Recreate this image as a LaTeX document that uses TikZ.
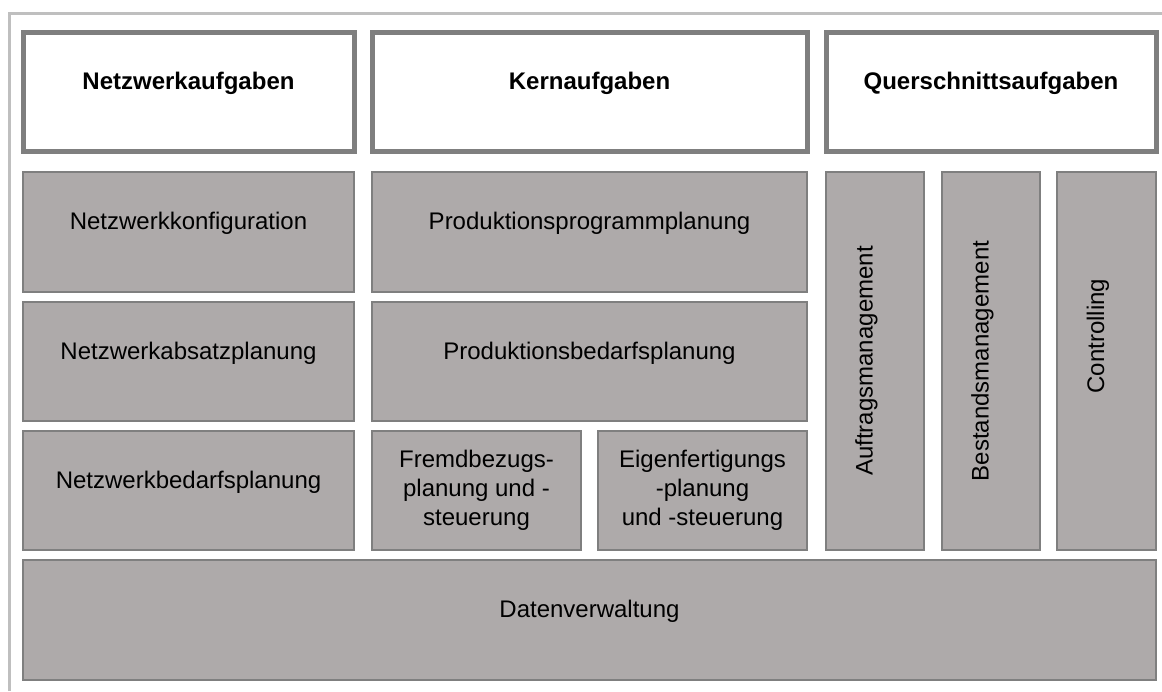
\documentclass[tikz,border=0pt]{standalone}
\usepackage{fontspec}
\setmainfont{Liberation Sans}
\definecolor{cellfill}{HTML}{AEAAAA}
\definecolor{celldraw}{HTML}{7F7F7F}
\definecolor{framegray}{HTML}{BFBFBF}
\begin{document}
\begin{tikzpicture}[x=1pt,y=-1pt,
  cell/.style={draw=celldraw, line width=2pt, fill=cellfill, rectangle, inner sep=0pt,
    font=\fontsize{24}{29}\selectfont, align=center},
  up/.style={text height=17pt, text depth=22pt},
  head/.style={draw=celldraw, line width=5pt, fill=white, rectangle, inner sep=0pt,
    font=\fontsize{24}{29}\selectfont\bfseries, text height=17pt, text depth=22pt},
  vert/.style={cell, rotate=90, text height=17pt, text depth=22pt}]
\useasboundingbox (0,0) rectangle (1162,691);
\draw[framegray, line width=3pt] (9,691) -- (9,13.5) -- (1162,13.5);
% headers
\node[head, minimum width=331pt, minimum height=119pt] (h1) at (188.5,92) {Netzwerkaufgaben};
\node[head, minimum width=435pt, minimum height=119pt] (h2) at (589.5,92) {Kernaufgaben};
\node[head, minimum width=330pt, minimum height=119pt] (h3) at (991,92) {Querschnittsaufgaben};
% left column
\node[cell, up, minimum width=331pt, minimum height=120pt] (nk) at (188.5,232) {Netzwerkkonfiguration};
\node[cell, up, minimum width=331pt, minimum height=119pt] (na) at (188.5,361.5) {Netzwerkabsatzplanung};
\node[cell, up, minimum width=331pt, minimum height=119pt] (nb) at (188.5,490.5) {Netzwerkbedarfsplanung};
% middle column
\node[cell, up, minimum width=435pt, minimum height=120pt] (pp) at (589.5,232) {Produktionsprogrammplanung};
\node[cell, up, minimum width=435pt, minimum height=119pt] (pb) at (589.5,361.5) {Produktionsbedarfsplanung};
\node[cell, minimum width=209pt, minimum height=119pt] (fb) at (476.5,490.5) {Fremdbezugs-\\planung und -\\steuerung};
\node[cell, minimum width=209pt, minimum height=119pt] (ef) at (702.5,490.5) {Eigenfertigungs\\-planung\\und -steuerung};
% right columns
\node[vert, minimum width=378pt, minimum height=98pt] (am) at (875,361) {Auftragsmanagement};
\node[vert, minimum width=378pt, minimum height=98pt] (bm) at (991,361) {Bestandsmanagement};
\node[vert, minimum width=378pt, minimum height=99pt] (co) at (1106.5,361) {\hspace*{50pt}Controlling};
% bottom
\node[cell, up, minimum width=1133pt, minimum height=120pt] (dv) at (589.5,620) {Datenverwaltung};
\end{tikzpicture}
\end{document}
